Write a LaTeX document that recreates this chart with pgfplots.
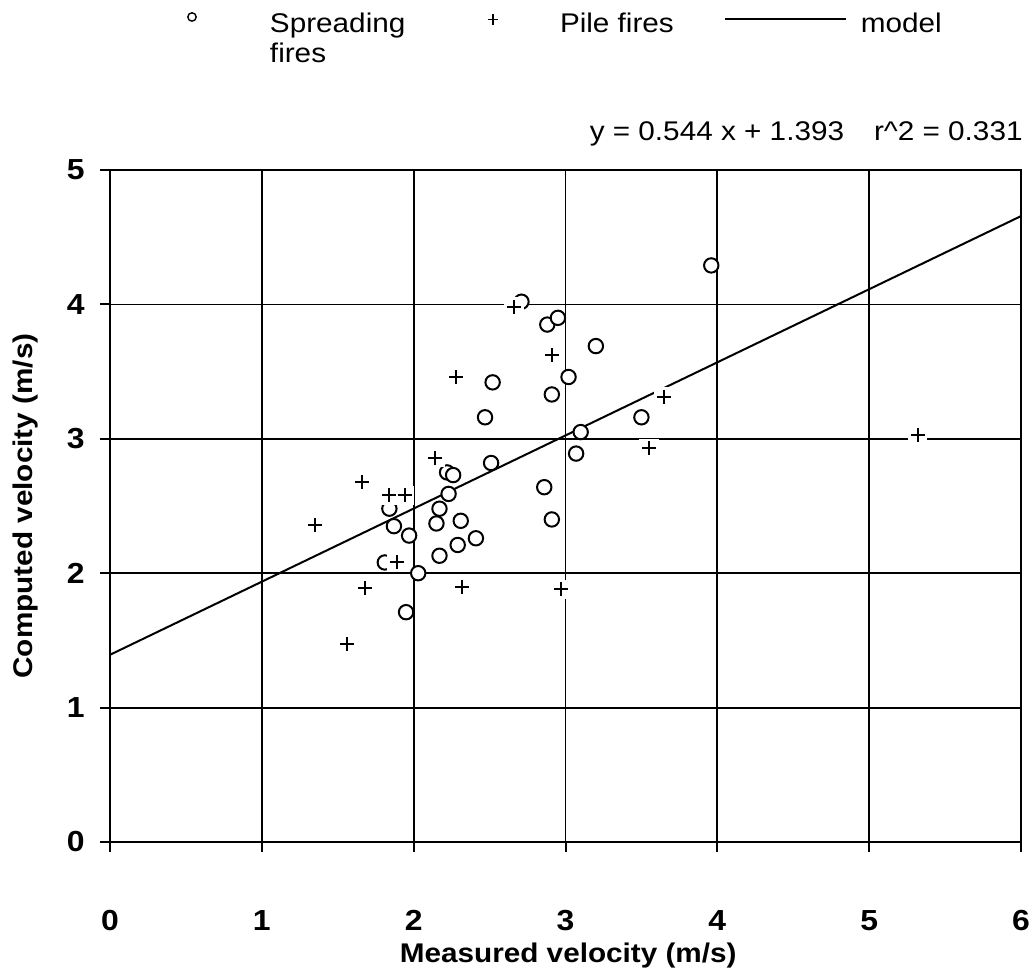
\documentclass[border=0pt]{standalone}
\usepackage{fontspec}
\setmainfont{Liberation Sans}[FakeStretch=1.1]
\usepackage{pgfplots}
\usepackage{pgfplotstable}
\pgfplotsset{compat=1.18}

\pgfplotsset{
  circlegend/.style={legend image code/.code={\path[draw=none, fill=none] (-10pt,0pt) rectangle (39pt,12pt);
    \draw[##1, mark size=2.1pt, mark options={draw=black, fill=white, line width=0.7pt}] plot coordinates {(0pt,8pt)};}},
  pluslegend/.style={legend image code/.code={\path[draw=none, fill=none] (-10pt,0pt) rectangle (33.5pt,12pt);
    \draw[##1, mark size=2.7pt, mark options={black, line width=0.65pt}] plot coordinates {(0pt,6.75pt)};}},
  linelegend/.style={legend image code/.code={\path[draw=none, fill=none] (0pt,0pt) rectangle (68pt,12pt);
    \draw[##1] (0pt,6.8pt) -- (60.5pt,6.8pt);}},
}

\pgfplotstableread{
x y
2.71 4.02
2.88 3.85
2.95 3.90
3.20 3.69
2.52 3.42
3.02 3.46
2.91 3.33
2.47 3.16
3.10 3.05
3.07 2.89
2.51 2.82
2.22 2.75
2.26 2.73
2.86 2.64
1.84 2.48
2.23 2.59
2.17 2.48
1.87 2.35
2.15 2.37
2.31 2.39
1.97 2.28
2.41 2.26
2.29 2.21
2.17 2.13
2.91 2.40
1.81 2.08
2.03 2.00
1.95 1.71
3.50 3.16
3.96 4.29
}\spreading

\pgfplotstableread{
x y
2.66 3.98
2.91 3.62
2.28 3.46
2.14 2.86
1.66 2.68
1.84 2.58
1.94 2.58
1.35 2.36
1.89 2.08
1.68 1.89
2.32 1.90
2.97 1.88
1.56 1.47
3.65 3.31
3.55 2.93
5.32 3.03
}\pile

\begin{document}
\begin{tikzpicture}
\path[use as bounding box] (-55pt,-66.5pt) rectangle (463pt,421pt);
\begin{axis}[
  at={(0,0)}, anchor=south west,
  scale only axis, width=455.5pt, height=336pt,
  xmin=0, xmax=6, ymin=0, ymax=5,
  xtick={0,1,2,3,4,5,6}, ytick={0,1,2,3,4,5},
  grid=major, major grid style={black, line width=0.9pt},
  axis line style={black, line width=1pt},
  tick align=outside, tick pos=left, major tick length=5pt,
  tick style={black, line width=1pt},
  font=\fontsize{13.5}{15}\selectfont,
  /pgf/number format/assume math mode=true,
  ticklabel style={font=\fontsize{14.5}{16}\selectfont\bfseries, inner sep=0pt},
  xticklabel style={anchor=north, yshift=-29pt},
  yticklabel style={anchor=east, xshift=-7.5pt},
  xlabel={\bfseries Measured velocity (m/s)},
  ylabel={\bfseries Computed velocity (m/s)},
  xlabel style={at={(axis description cs:0.503,0)}, anchor=base, yshift=-60pt, inner sep=0pt},
  ylabel style={at={(axis description cs:-0.0856,0.5)}, anchor=base, inner sep=0pt},
  clip=false,
  legend columns=3,
  legend style={draw=none, fill=none, at={(axis description cs:0.06806,1.2396)}, anchor=north west,
    inner sep=0pt, outer sep=0pt, nodes={inner sep=0pt, outer sep=0pt},
    cells={anchor=base west}, column sep=0pt, row sep=0pt,
    font=\fontsize{13.5}{15}\selectfont},
]
\addplot[forget plot, black, line width=1pt] coordinates {(0,1.393) (6,4.657)};

\addplot[only marks, mark=*, mark size=3.6pt,
  mark options={draw=black, fill=white, line width=1pt}, circlegend]
  table[x=x, y=y] {\spreading};
\addlegendentry{\makebox[101.5pt][l]{\vtop{\hbox{Spreading}\hbox{fires}}}}

\addplot[forget plot, only marks, mark=square*, mark size=4.6pt,
  mark options={draw=white, fill=white, line width=0pt}] table[x=x, y=y] {\pile};

\addplot[only marks, mark=+, mark size=3.5pt,
  mark options={black, line width=1pt}, pluslegend]
  table[x=x, y=y] {\pile};
\addlegendentry{\makebox[82pt][l]{Pile fires}}

\addlegendimage{black, line width=0.9pt, linelegend}
\addlegendentry{model}

\node[anchor=base east, inner sep=0pt] at (axis description cs:1.0022,1.0432)
  {y = 0.544 x + 1.393\hspace{15pt}r\textasciicircum 2 = 0.331};
\end{axis}
\end{tikzpicture}
\end{document}
